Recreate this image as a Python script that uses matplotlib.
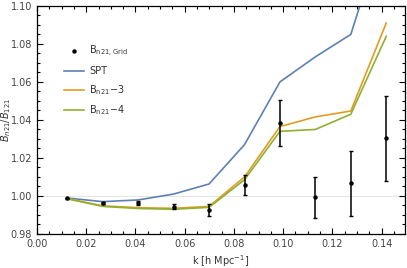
import numpy as np
import matplotlib
matplotlib.use("Agg")
import matplotlib.pyplot as plt
from matplotlib.ticker import MultipleLocator, FormatStrFormatter

k = [0.0123, 0.0267, 0.0411, 0.0555, 0.0699, 0.0843, 0.0987, 0.1131, 0.1275, 0.1419]
spt = [0.9989, 0.9970, 0.9979, 1.0010, 1.0063, 1.0270, 1.0600, 1.0732, 1.0850, 1.1440]
bn3 = [0.9986, 0.9948, 0.9938, 0.9935, 0.9945, 1.0100, 1.0365, 1.0416, 1.0447, 1.0910]
bn4 = [0.9985, 0.9945, 0.9934, 0.9930, 0.9940, 1.0085, 1.0340, 1.0350, 1.0430, 1.0840]
grid = [0.9988, 0.9962, 0.9962, 0.9944, 0.9925, 1.0058, 1.0384, 0.9993, 1.0066, 1.0303]
grid_err = [0.0003, 0.0005, 0.0011, 0.0012, 0.0033, 0.0052, 0.0121, 0.0107, 0.0171, 0.0224]

blue, orange, green = "#5E81B5", "#E19C24", "#8FB032"

fig = plt.figure(figsize=(4.07, 2.68), dpi=100)
ax = fig.add_axes([0.091, 0.127, 0.904, 0.851])

ax.axhline(1.0, color="#e6e6e6", linewidth=0.8, zorder=0)
eb = ax.errorbar(k, grid, yerr=grid_err, fmt="o", color="black", markersize=2.2,
                 elinewidth=1.1, capsize=1.6, capthick=1.0, zorder=5)
l1, = ax.plot(k, spt, color=blue, linewidth=1.2)
l2, = ax.plot(k, bn3, color=orange, linewidth=1.2)
l3, = ax.plot(k, bn4, color=green, linewidth=1.2)

ax.set_xlim(0, 0.1495)
ax.set_ylim(0.98, 1.10)
ax.xaxis.set_major_locator(MultipleLocator(0.02))
ax.xaxis.set_minor_locator(MultipleLocator(0.005))
ax.yaxis.set_major_locator(MultipleLocator(0.02))
ax.yaxis.set_minor_locator(MultipleLocator(0.005))
ax.xaxis.set_major_formatter(FormatStrFormatter("%.2f"))
ax.yaxis.set_major_formatter(FormatStrFormatter("%.2f"))
ax.tick_params(which="both", direction="in", top=True, right=True,
               labelsize=7, labelcolor="#444444", width=0.8)
ax.tick_params(which="major", length=4)
ax.tick_params(which="minor", length=2)
for s in ax.spines.values():
    s.set_linewidth(0.9)

ax.set_xlabel(r"k [h Mpc$^{-1}$]", fontsize=7, color="#333333")
ax.xaxis.set_label_coords(0.5, -0.085)
ax.set_ylabel(r"$B_{n21}/B_{121}$", fontsize=7, color="#333333")
ax.yaxis.set_label_coords(-0.066, 0.5)

# legend: marker entry without the error bar glyph
dot, = ax.plot([], [], "o", color="black", markersize=2.2)
leg = ax.legend([dot, l1, l2, l3],
                [r"$\mathrm{B}_{\mathrm{n21,Grid}}$", "SPT",
                 r"$\mathrm{B}_{\mathrm{n21}}$$-3$", r"$\mathrm{B}_{\mathrm{n21}}$$-4$"],
                loc="upper left", bbox_to_anchor=(0.05, 0.87), frameon=False,
                fontsize=7, labelspacing=0.7, handlelength=2.0, handletextpad=0.6)
for t in leg.get_texts():
    t.set_color("#333333")

fig.savefig("out.png", dpi=100, facecolor="white")
